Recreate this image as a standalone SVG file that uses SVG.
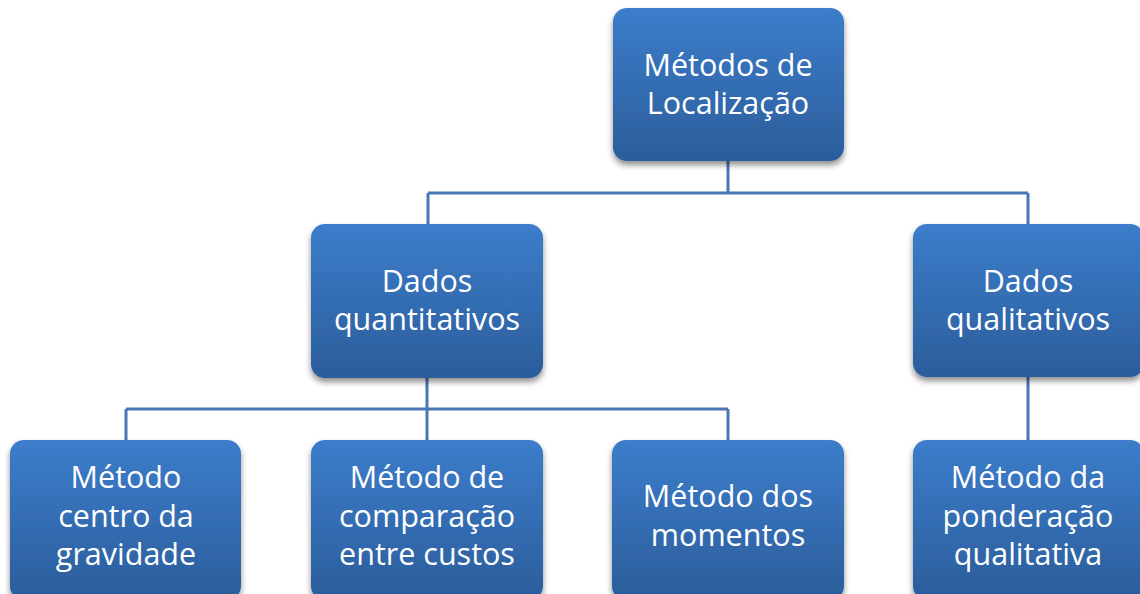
<svg xmlns="http://www.w3.org/2000/svg" width="1140" height="594" viewBox="0 0 1140 594">
<defs>
<linearGradient id="g" x1="0" y1="0" x2="0" y2="1">
<stop offset="0" stop-color="#3c7dcb"/>
<stop offset="1" stop-color="#2b5d9b"/>
</linearGradient>
<filter id="sh" x="-10%" y="-10%" width="120%" height="125%">
<feGaussianBlur in="SourceAlpha" stdDeviation="3"/>
<feOffset dx="0" dy="4" result="b"/>
<feComponentTransfer><feFuncA type="linear" slope="0.45"/></feComponentTransfer>
<feMerge><feMergeNode/><feMergeNode in="SourceGraphic"/></feMerge>
</filter>
</defs>
<style>
.box{fill:url(#g);filter:url(#sh)}
.t{font-family:"Open Sans","Noto Sans","DejaVu Sans",sans-serif;font-size:30.5px;fill:#ffffff;text-anchor:middle}
.c{fill:none;stroke:#4a76b4;stroke-width:3}
</style>
<rect width="1140" height="594" fill="#ffffff"/>
<g id="connectors">
<path class="c" d="M728 161V193M428 193H1028M428 193V224M1028 193V224"/>
<path class="c" d="M427 378V440M126 409H728M126 409V440M728 409V440"/>
<path class="c" d="M1028 377V440"/>
</g>
<g id="n-root">
<rect class="box" x="613" y="8" width="231" height="153" rx="14"/>
<text class="t" x="728" y="76">Métodos de</text>
<text class="t" x="728" y="114">Localização</text>
</g>
<g id="n-quant">
<rect class="box" x="311" y="224" width="232" height="154" rx="14"/>
<text class="t" x="427" y="292">Dados</text>
<text class="t" x="427" y="330">quantitativos</text>
</g>
<g id="n-qual">
<rect class="box" x="913" y="224" width="231" height="153" rx="14"/>
<text class="t" x="1028" y="292">Dados</text>
<text class="t" x="1028" y="330">qualitativos</text>
</g>
<g id="n-centro">
<rect class="box" x="10" y="440" width="231" height="160" rx="14"/>
<text class="t" x="126" y="488">Método</text>
<text class="t" x="126" y="527">centro da</text>
<text class="t" x="126" y="565">gravidade</text>
</g>
<g id="n-comparacao">
<rect class="box" x="311" y="440" width="232" height="160" rx="14"/>
<text class="t" x="427" y="488">Método de</text>
<text class="t" x="427" y="527">comparação</text>
<text class="t" x="427" y="565">entre custos</text>
</g>
<g id="n-momentos">
<rect class="box" x="612" y="440" width="232" height="160" rx="14"/>
<text class="t" x="728" y="507">Método dos</text>
<text class="t" x="728" y="546">momentos</text>
</g>
<g id="n-ponderacao">
<rect class="box" x="913" y="440" width="231" height="160" rx="14"/>
<text class="t" x="1028" y="488">Método da</text>
<text class="t" x="1028" y="527">ponderação</text>
<text class="t" x="1028" y="565">qualitativa</text>
</g>
</svg>
